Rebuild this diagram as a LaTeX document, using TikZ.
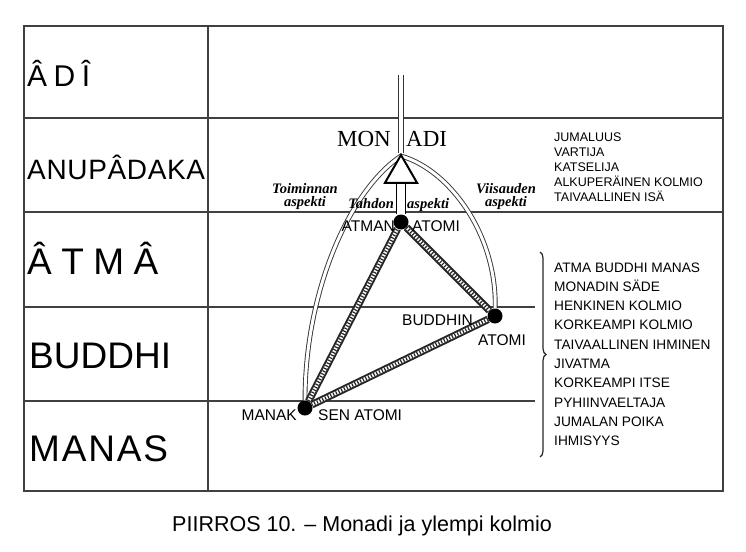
\documentclass[tikz,border=0pt]{standalone}
\usepackage{fontspec}
\setmainfont{Liberation Serif}
\setsansfont{Liberation Sans}
\usepackage{tikz}
\usetikzlibrary{shapes.geometric, decorations.pathreplacing}
\tikzstyle{frameLine} = [line width=1.4pt, draw=black!75]
\tikzstyle{planeLabel} = [anchor=base west, inner sep=0pt]
\tikzstyle{atomNode} = [circle, fill=black, minimum size=15pt, inner sep=0pt]
\tikzstyle{atomLabel} = [inner sep=0pt, font=\sffamily\fontsize{15.5}{18}\selectfont]
\tikzstyle{aspect} = [inner sep=0pt, align=center, font=\bfseries\itshape\fontsize{14.5}{13}\selectfont]
\tikzstyle{rope} = [draw=black!85, line width=2pt, double=white, double distance=3.5pt]
\tikzstyle{rung} = [draw=black!85, line width=3.5pt, dash pattern=on 1.2pt off 1.8pt]
\tikzstyle{arch} = [draw=black!80, line width=0.9pt, double=white, double distance=3pt]
\tikzstyle{ray} = [draw=black!80, line width=0.9pt, double=white, double distance=3.5pt]
\tikzstyle{shaft} = [draw=black, line width=1.3pt, double=white, double distance=8pt]
\tikzstyle{monadTri} = [regular polygon, regular polygon sides=3, minimum size=37pt, inner sep=0pt, draw=black, line width=2pt, fill=white]
\tikzstyle{listText} = [anchor=base west, inner sep=0pt, font=\sffamily\fontsize{12.5}{15}\selectfont]
\tikzstyle{listTextB} = [anchor=base west, inner sep=0pt, font=\sffamily\fontsize{13.7}{16}\selectfont]
\tikzstyle{braceLine} = [draw=black!85, line width=1.2pt, decorate, decoration={brace, amplitude=6pt}]
\newcommand{\spreadLetters}[2]{\makebox[#1]{#2}}

\begin{document}
\begin{tikzpicture}[x=1pt, y=-1pt]
\useasboundingbox (0,0) rectangle (746,551);
\draw[frameLine] (24,26) rectangle (723,491);
\draw[frameLine] (208,26) -- (208,491);
\draw[frameLine] (24,118) -- (723,118);
\draw[frameLine] (24,212) -- (723,212);
\draw[frameLine] (24,307) -- (535,307);
\draw[frameLine] (24,401) -- (535,401);

\node[planeLabel, font=\sffamily\fontsize{30}{32}\selectfont] (adi) at (27,86) {\spreadLetters{63pt}{Â\hfill D\hfill Î}};
\node[planeLabel, font=\sffamily\fontsize{28}{30}\selectfont] (anupadaka) at (27,179) {\spreadLetters{178pt}{A\hfill N\hfill U\hfill P\hfill Â\hfill D\hfill A\hfill K\hfill A}};
\node[planeLabel, font=\sffamily\fontsize{37}{39}\selectfont] (atma) at (27,274) {\spreadLetters{131pt}{Â\hfill T\hfill M\hfill Â}};
\node[planeLabel, font=\sffamily\fontsize{37}{39}\selectfont] (buddhi) at (29,368) {\spreadLetters{142pt}{B\hfill U\hfill D\hfill D\hfill H\hfill I}};
\node[planeLabel, font=\sffamily\fontsize{37}{39}\selectfont] (manasPlane) at (29,461) {\spreadLetters{139pt}{M\hfill A\hfill N\hfill A\hfill S}};

\node[atomNode] (atman) at (401,222) {};
\node[atomNode] (buddhin) at (495,316) {};
\node[atomNode] (manas) at (305,408) {};
\coordinate (apex) at (401,156);
\coordinate (raytop) at (401,75);

\draw[arch] (manas) .. controls (305,290) and (350,190) .. (apex) .. controls (450,170) and (497,235) .. (buddhin);

\foreach \a/\b in {atman/buddhin, buddhin/manas, manas/atman} {
  \draw[rope] (\a) -- (\b);
  \draw[rung] (\a) -- (\b);
}

\node[monadTri] (monad) at (401,173.5) {};
\draw[shaft] (monad.side 2) -- (atman);
\draw[ray] (monad.corner 1) -- (raytop);

\node[inner sep=0pt, anchor=base east, font=\fontsize{23}{25}\selectfont] (mon) at (391,146) {MON};
\node[inner sep=0pt, anchor=base west, font=\fontsize{23}{25}\selectfont] (adiText) at (406,146) {ADI};

\node[aspect] (toiminta) at (305,196.5) {Toiminnan\\aspekti};
\node[aspect, anchor=base east] (tahdon) at (394,208) {Tahdon};
\node[aspect, anchor=base west] (tahdonAspekti) at (407,208) {aspekti};
\node[aspect] (viisaus) at (506,196.5) {Viisauden\\aspekti};

\node[atomLabel, anchor=base east] (atmanText) at (395,231) {ATMAN};
\node[atomLabel, anchor=base west] (atmanAtomi) at (412,231) {ATOMI};
\node[atomLabel, anchor=base east] (buddhinText) at (473,325) {BUDDHIN};
\node[atomLabel, anchor=base west] (buddhinAtomi) at (478,345) {ATOMI};
\node[atomLabel, anchor=base east] (manasText) at (297,420) {MANAK};
\node[atomLabel, anchor=base west] (manasAtomi) at (318,420) {SEN ATOMI};

\foreach \t [count=\i from 0] in {JUMALUUS,VARTIJA,KATSELIJA,ALKUPERÄINEN KOLMIO,TAIVAALLINEN ISÄ}
  \node[listText] (isa\i) at (554,{141.5+15*\i}) {\t};

\coordinate (braceTop) at (540,252);
\coordinate (braceBot) at (540,457);
\draw[braceLine] (braceTop) -- (braceBot);
\foreach \t [count=\i from 0] in {ATMA BUDDHI MANAS,MONADIN SÄDE,HENKINEN KOLMIO,KORKEAMPI KOLMIO,TAIVAALLINEN IHMINEN,JIVATMA,KORKEAMPI ITSE,PYHIINVAELTAJA,JUMALAN POIKA,IHMISYYS}
  \node[listTextB] (ihminen\i) at (554,{272+19.33*\i}) {\t};

\node[inner sep=0pt, anchor=base, font=\sffamily\fontsize{21.5}{24}\selectfont] (caption) at (362,531) {PIIRROS 10. – Monadi ja ylempi kolmio};
\end{tikzpicture}
\end{document}
